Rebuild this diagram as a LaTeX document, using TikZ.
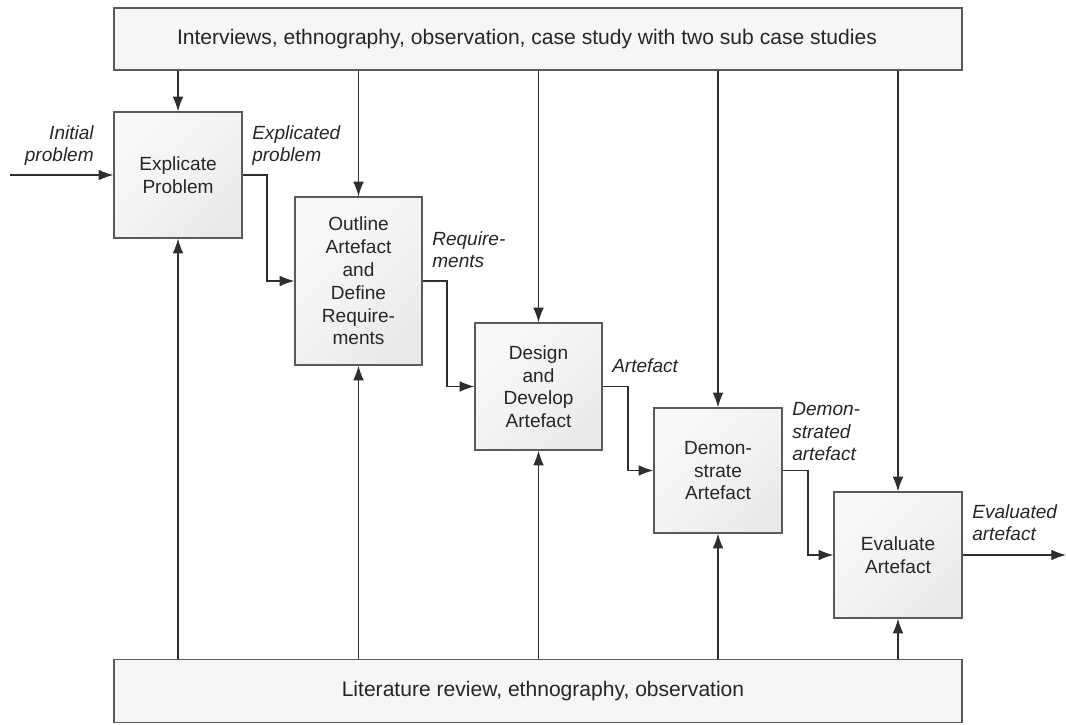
\documentclass[tikz,border=0pt]{standalone}
\usepackage{fontspec}
\setmainfont{Liberation Sans}
\usetikzlibrary{arrows.meta}
\definecolor{edge}{HTML}{5A5A5A}
\definecolor{wire}{HTML}{2E2E2E}
\definecolor{fillA}{HTML}{F8F8F8}
\definecolor{fillM}{HTML}{F3F3F3}
\definecolor{fillB}{HTML}{EAEAEA}
\definecolor{bandfill}{HTML}{F6F6F6}
\begin{document}
\begin{tikzpicture}[x=0.75pt,y=-0.75pt,
  font=\fontsize{14.3}{17.1}\selectfont,
  stage/.style={draw=edge,line width=1pt,
    top color=fillA,bottom color=fillB,middle color=fillM,shading angle=45,
    inner sep=0pt,align=center,text=black!85,text depth=-1.5pt},
  band/.style={draw=edge,line width=1pt,fill=bandfill,inner sep=0pt,text=black!85,
    font=\fontsize{15.8}{19}\selectfont},
  flow/.style={draw=wire,line width=0.85pt,-{Latex[length=11pt,width=8pt]}},
  lbl/.style={font=\fontsize{14.3}{17.1}\selectfont\itshape,text=black!85,inner sep=0pt,align=left},
  lblr/.style={lbl,align=right}]
\useasboundingbox (0,0) rectangle (1066,724);

% source bands (texts sit slightly off the band centres)
\node[band,minimum width=636pt,minimum height=46.5pt] (top) at (538,39) {Interviews, ethnography, observation, case study with two sub case studies\hspace*{16.5pt}};
\node[band,minimum width=636pt,minimum height=47pt] (bot) at (538,691) {\hspace*{7.5pt}Literature review, ethnography, observation};

% process stages
\node[stage,minimum width=96pt,minimum height=94.5pt] (s1) at (178,175) {Explicate\\Problem};
\node[stage,minimum width=95.25pt,minimum height=126pt] (s2) at (358.5,281) {Outline\\Artefact\\and\\Define\\Require-\\ments};
\node[stage,minimum width=95.25pt,minimum height=95.25pt] (s3) at (538.5,386.5) {Design\\and\\Develop\\Artefact};
\node[stage,minimum width=96pt,minimum height=93.75pt] (s4) at (718,470.5) {Demon-\\strate\\Artefact};
\node[stage,minimum width=96pt,minimum height=94.5pt] (s5) at (898,555) {Evaluate\\Artefact};

% inputs from the top band
\foreach \s in {s1,s2,s3,s4,s5}
  \draw[flow] (top.south -| \s.north) -- (\s.north);
% inputs from the bottom band
\foreach \s in {s1,s2,s3,s4,s5}
  \draw[flow] (bot.north -| \s.south) -- (\s.south);

% chain between stages
\coordinate (in) at (10,175);
\coordinate (out) at (1066,555);
\draw[flow] (in) -- (s1.west);
\draw[flow] (s1.east) -- (267,175) |- (s2.west);
\draw[flow] (s2.east) -- (447,281) |- (s3.west);
\draw[flow] (s3.east) -- (628,386.5) |- (s4.west);
\draw[flow] (s4.east) -- (808,470.5) |- (s5.west);
\draw[flow] (s5.east) -- (out);

% flow labels
\node[lblr,anchor=north east] (l0) at (94,125) {Initial\\problem};
\node[lbl,anchor=north west] (l1) at (252,125) {Explicated\\problem};
\node[lbl,anchor=north west] (l2) at (432,231) {Require-\\ments};
\node[lbl,anchor=north west] (l3) at (612,358) {Artefact};
\node[lbl,anchor=north west] (l4) at (792,402) {Demon-\\strated\\artefact};
\node[lbl,anchor=north west] (l5) at (972,504) {Evaluated\\artefact};
\end{tikzpicture}
\end{document}
